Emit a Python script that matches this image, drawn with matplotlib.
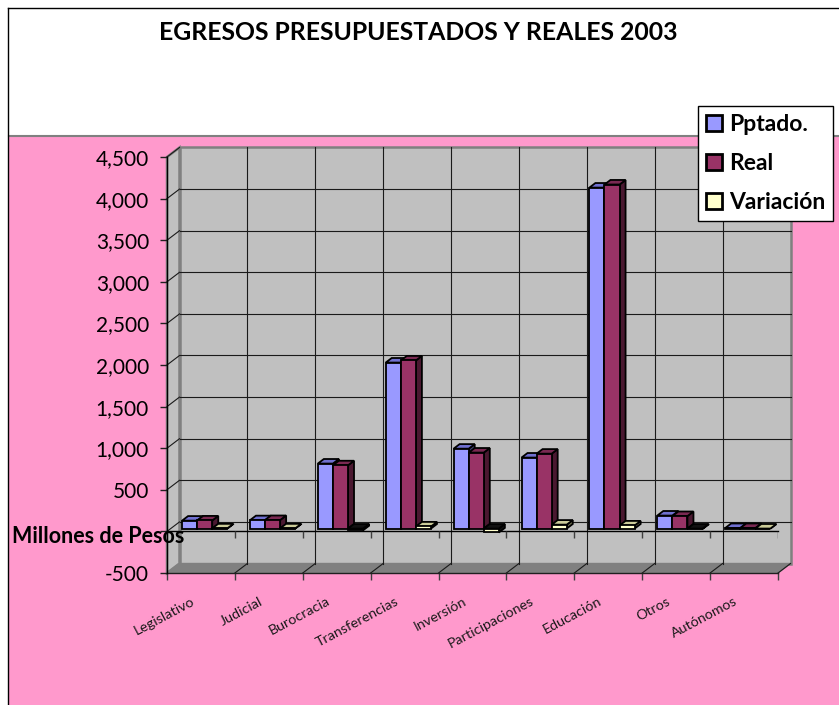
import matplotlib
matplotlib.use('Agg')
import matplotlib.pyplot as plt
from matplotlib.patches import Polygon, Rectangle, Patch
from matplotlib.lines import Line2D
from matplotlib.transforms import ScaledTranslation
import numpy as np

categories = ["Legislativo", "Judicial", "Burocracia", "Transferencias", "Inversión",
              "Participaciones", "Educación", "Otros", "Autónomos"]
pptado = [95, 100, 781, 1995, 960, 853, 4098, 156, 6]
real = [97, 102, 760, 2020, 913, 900, 4135, 150, 6]
variacion = [2, 2, -21, 25, -47, 47, 37, -6, 0]
series_names = ["Pptado.", "Real", "Variación"]
y_ticks = [-500, 0, 500, 1000, 1500, 2000, 2500, 3000, 3500, 4000, 4500]
title = "EGRESOS PRESUPUESTADOS Y REALES 2003"
y_label = "Millones de Pesos"

plt.rcParams['font.family'] = ['Lato', 'DejaVu Sans']

W, H = 839, 705
fig = plt.figure(figsize=(W / 100, H / 100), dpi=100)
fig.patch.set_facecolor('white')


def fx(p):
    return p / W


def fy(p):
    return 1 - p / H


# chart / plot area backgrounds
fig.patches.append(Rectangle((fx(9), 0), 1 - fx(9), fy(136), transform=fig.transFigure,
                             facecolor='#FF99CC', edgecolor='none', zorder=-5))
fig.add_artist(Line2D([fx(9), 1], [fy(136), fy(136)], color='#808080', lw=1.5, zorder=-4))
fig.add_artist(Line2D([fx(8), fx(8)], [0, fy(8)], color='black', lw=1, zorder=-4))
fig.add_artist(Line2D([fx(8), 1], [fy(8), fy(8)], color='black', lw=1, zorder=-4))

L, R, T, B = 167, 778, 157, 573
ax = fig.add_axes([fx(L), fy(B), (R - L) / W, (B - T) / H])
ax.set_zorder(1)
ax.set_xlim(0, 9)
ax.set_ylim(y_ticks[0], y_ticks[-1])
ax.patch.set_visible(False)
px_x = 9 / (R - L)
px_y = (y_ticks[-1] - y_ticks[0]) / (B - T)
DX, DY = 12.5 * px_x, 9.5 * px_y
ymin, ymax = y_ticks[0], y_ticks[-1]
n = len(categories)


def P(x, y, d):
    return (x + d * DX, y + d * DY)


wall_c = '#C0C0C0'
edge_g = '#808080'
ax.add_patch(Polygon([P(0, ymin, 1), P(n, ymin, 1), P(n, ymax, 1), P(0, ymax, 1)],
                     closed=True, fc=wall_c, ec=edge_g, lw=1.8, clip_on=False, zorder=1))
ax.add_patch(Polygon([P(0, ymin, 0), P(0, ymin, 1), P(0, ymax, 1), P(0, ymax, 0)],
                     closed=True, fc=wall_c, ec=edge_g, lw=1.8, clip_on=False, zorder=1))
ax.add_patch(Polygon([P(0, ymin, 0), P(n, ymin, 0), P(n, ymin, 1), P(0, ymin, 1)],
                     closed=True, fc=edge_g, ec=edge_g, lw=1.0, clip_on=False, zorder=1))

gl = dict(color='#1a1a1a', lw=0.8, clip_on=False, zorder=2)
for v in y_ticks[1:-1]:
    a, b = P(0, v, 1), P(n, v, 1)
    ax.plot([a[0], b[0]], [a[1], b[1]], **gl)
for v in y_ticks[1:]:
    a, b = P(0, v, 0), P(0, v, 1)
    ax.plot([a[0], b[0]], [a[1], b[1]], **gl)
for k in range(1, n):
    a, b = P(k, ymin, 1), P(k, ymax, 1)
    ax.plot([a[0], b[0]], [a[1], b[1]], **gl)
for k in range(1, n + 1):
    a, b = P(k, ymin, 0), P(k, ymin, 1)
    ax.plot([a[0], b[0]], [a[1], b[1]], **gl)

# zero axis at front
ax.plot([0, n], [0, 0], color='black', lw=1, zorder=3, clip_on=False)
ax.vlines(np.arange(1, n + 1), -7 * px_y, 0, color='#404040', lw=1, zorder=3)

# 3D-looking bars
colors = ['#9999FF', '#993366', '#FFFFCC']
tops = ['#7070D0', '#7A2952', '#CCCC99']
sides = ['#3D3D70', '#4A1830', '#6E6E50']
gap = 1.5
bw = 1 / (len(series_names) + gap)
d0, d1 = 0.3, 0.78
data = [pptado, real, variacion]
for s, vals in enumerate(data):
    xs = np.arange(n) + gap * bw / 2 + s * bw
    z = 10 + s
    for x0, v in zip(xs, vals):
        lo, hi = min(v, 0), max(v, 0)
        ax.add_patch(Polygon([P(x0 + bw, lo, d0), P(x0 + bw, lo, d1), P(x0 + bw, hi, d1), P(x0 + bw, hi, d0)],
                             closed=True, fc=sides[s] if v >= 0 else '#111111', ec='black', lw=1.3,
                             clip_on=False, zorder=z))
        ax.add_patch(Polygon([P(x0, hi, d0), P(x0 + bw, hi, d0), P(x0 + bw, hi, d1), P(x0, hi, d1)],
                             closed=True, fc=tops[s] if v >= 0 else '#111111', ec='black', lw=1.3,
                             clip_on=False, zorder=z))
    ax.bar(xs + d0 * DX, vals, width=bw, bottom=d0 * DY, align='edge', color=colors[s],
           edgecolor='black', linewidth=1.3, zorder=z + 0.5, clip_on=False)

# axes styling
for sp in ['top', 'right']:
    ax.spines[sp].set_visible(False)
ax.spines['left'].set_color('black')
ax.spines['left'].set_linewidth(1)
ax.spines['bottom'].set_color('#202020')
ax.spines['bottom'].set_linewidth(1)
ax.spines['left'].set_zorder(5)
ax.set_yticks(y_ticks)
# the zero label is covered by the axis title in the original
ax.set_yticklabels(['' if v == 0 else f"{v:,}" for v in y_ticks], fontsize=15)
ax.tick_params(axis='y', length=5, width=1, pad=8, color='#202020')
ax.set_xticks(np.arange(n + 1), minor=True)
ax.set_xticks([])
ax.tick_params(axis='x', which='minor', length=5, width=1, color='#404040')

for i, cat in enumerate(categories):
    ax.text(i + 0.5, ymin, cat, fontsize=10.3, rotation=28, ha='right', va='top',
            rotation_mode='anchor', color='#1a1a1a',
            transform=ax.transData + ScaledTranslation(-10 / 100, -22 / 100, fig.dpi_scale_trans))

fig.text(fx(12), fy(543), y_label, fontsize=15.5, fontweight='bold', ha='left', va='baseline', zorder=20)
fig.text(fx(418), fy(33), title, fontsize=17.8, fontweight='bold', ha='center', va='center')

handles = [Patch(facecolor=c, edgecolor='black', linewidth=2) for c in colors]
leg = fig.legend(handles, series_names, loc='upper left', bbox_to_anchor=(fx(698), fy(106)),
                 frameon=True, fancybox=False, framealpha=1, edgecolor='black',
                 prop={'weight': 'bold', 'size': 16.5}, handlelength=0.7, handleheight=0.7,
                 handletextpad=0.3, labelspacing=0.78, borderpad=0.35, borderaxespad=0)
leg.set_zorder(30)
leg.get_frame().set_linewidth(1)

fig.savefig('out.png', dpi=100)
